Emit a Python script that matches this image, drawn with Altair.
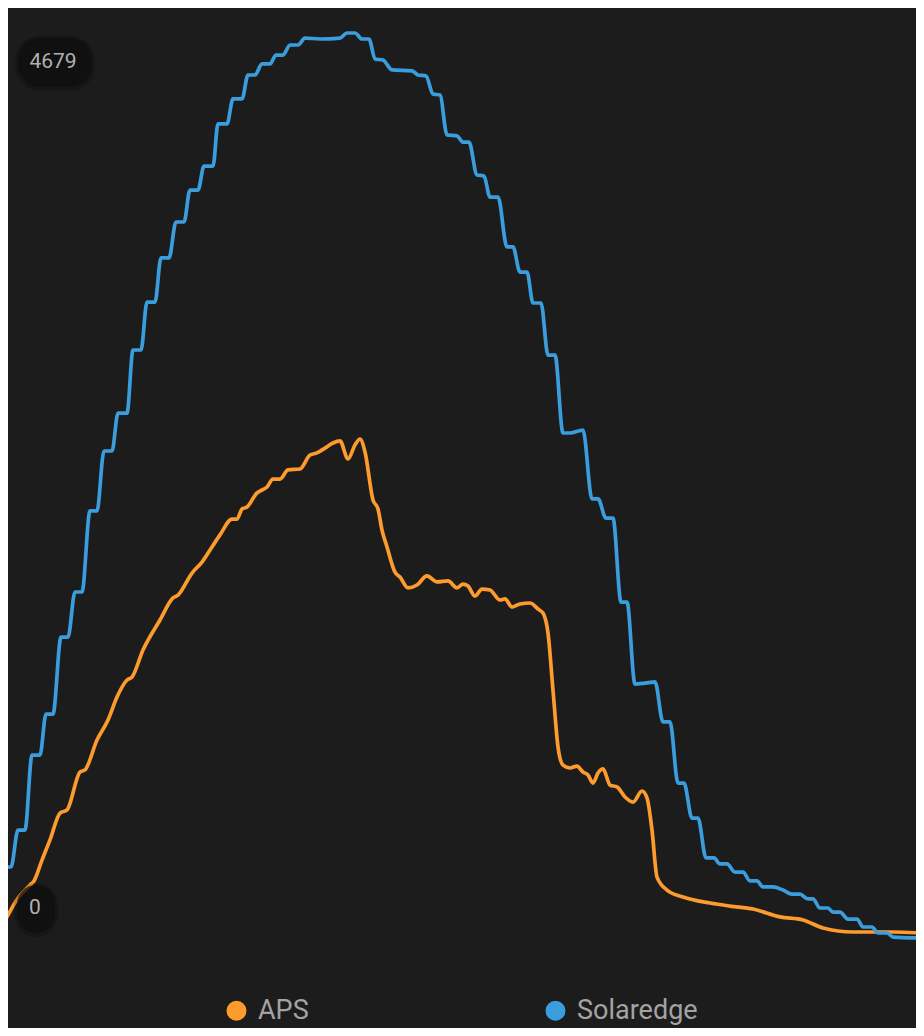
import altair as alt
import pandas as pd

# readings: minutes since midnight, power in W
aps_minutes = [330, 341, 353, 357, 365, 373, 383, 390, 403, 408, 420, 431, 440, 450, 455, 466, 483, 496, 501, 515,
               525, 535, 543, 555, 560, 565, 570, 580, 583, 590, 596, 603, 611, 623, 633, 640, 648, 656, 663, 671,
               678, 683, 688, 696, 701, 705, 710, 718, 723, 731, 740, 750, 760, 771, 780, 786, 791, 798, 805, 813,
               823, 828, 835, 843, 853, 861, 866, 871, 876, 881, 886, 893, 900, 906, 911, 916, 921, 926, 933, 940,
               948, 956, 965, 970, 975, 980, 990, 1006, 1033, 1053, 1076, 1103, 1126, 1146, 1176, 1216, 1243]
aps_watts = [109, 207, 274, 295, 403, 507, 646, 662, 858, 869, 1024, 1127, 1246, 1334, 1349, 1489, 1644, 1758, 1773, 1887,
             1944, 2022, 2084, 2166, 2166, 2218, 2228, 2301, 2311, 2332, 2373, 2373, 2420, 2425, 2497, 2508, 2533, 2559, 2570, 2477,
             2549, 2580, 2513, 2265, 2218, 2109, 2022, 1892, 1866, 1810, 1825, 1872, 1841, 1846, 1810, 1830, 1820, 1768, 1804, 1799,
             1748, 1753, 1711, 1727, 1732, 1701, 1680, 1577, 1282, 988, 894, 879, 889, 858, 843, 801, 853, 874, 791, 781,
             729, 703, 760, 724, 558, 315, 248, 212, 181, 165, 150, 109, 93, 52, 31, 31, 26]

solaredge_minutes = [330, 334, 341, 348, 355, 363, 369, 376, 384, 391, 398, 405, 413, 420, 427, 435, 441, 450, 456, 464,
                     470, 478, 484, 492, 499, 507, 513, 521, 527, 536, 541, 550, 556, 565, 571, 578, 585, 593, 599, 606,
                     613, 621, 628, 643, 663, 670, 678, 685, 692, 698, 706, 715, 735, 741, 749, 756, 763, 770, 780, 786,
                     792, 800, 807, 813, 821, 830, 836, 843, 850, 856, 864, 871, 878, 886, 893, 906, 915, 921, 929, 936,
                     944, 950, 958, 968, 978, 986, 993, 1001, 1007, 1015, 1021, 1029, 1037, 1043, 1050, 1058, 1066, 1073, 1080, 1086,
                     1096, 1106, 1115, 1123, 1131, 1136, 1143, 1151, 1156, 1163, 1171, 1180, 1186, 1195, 1201, 1210, 1216, 1243]
solaredge_watts = [367, 367, 558, 558, 946, 946, 1158, 1158, 1556, 1556, 1789, 1789, 2208, 2208, 2518, 2518, 2714, 2714, 3040, 3040,
                   3288, 3288, 3516, 3516, 3702, 3702, 3867, 3867, 3991, 3991, 4209, 4209, 4338, 4338, 4462, 4462, 4519, 4519, 4565, 4565,
                   4617, 4617, 4653, 4648, 4653, 4679, 4679, 4648, 4648, 4545, 4539, 4488, 4483, 4462, 4457, 4364, 4358, 4152, 4147, 4115,
                   4115, 3945, 3940, 3831, 3831, 3573, 3573, 3443, 3443, 3283, 3283, 3014, 3014, 2611, 2611, 2626, 2270, 2270, 2171, 2171,
                   1737, 1737, 1313, 1318, 1324, 1117, 1117, 801, 801, 620, 620, 414, 414, 383, 383, 341, 341, 295, 295, 264,
                   264, 248, 227, 227, 202, 202, 155, 155, 134, 134, 98, 98, 57, 57, 26, 26, 5, 0]

series_names = ["APS", "Solaredge"]
series_colors = ["#fd9b2c", "#3a9ddd"]

readings = pd.concat([
    pd.DataFrame({"minute": aps_minutes, "watts": aps_watts, "series": "APS"}),
    pd.DataFrame({"minute": solaredge_minutes, "watts": solaredge_watts, "series": "Solaredge"}),
])

all_watts = aps_watts + solaredge_watts
start = min(aps_minutes + solaredge_minutes)
top_badge = pd.DataFrame({"minute": [start], "watts": [max(all_watts)], "label": [str(max(all_watts))]})
bottom_badge = pd.DataFrame({"minute": [start], "watts": [min(all_watts)], "label": [str(min(all_watts))]})

x_scale = alt.Scale(domain=[331, 1239], nice=False, zero=False)
y_scale = alt.Scale(domain=[-465.3, 4808.3], nice=False, zero=False)
X = alt.X("minute:Q", axis=None, scale=x_scale)
Y = alt.Y("watts:Q", axis=None, scale=y_scale)

lines = alt.Chart(readings).mark_line(
    interpolate="monotone", strokeWidth=3.7, strokeCap="round", strokeJoin="round"
).encode(
    x=X,
    y=Y,
    color=alt.Color(
        "series:N",
        scale=alt.Scale(domain=series_names, range=series_colors),
        legend=alt.Legend(
            title=None, orient="none", legendX=215, legendY=989, direction="horizontal",
            padding=0, symbolType="circle", symbolSize=100, symbolStrokeWidth=10,
            labelFont="Roboto", labelFontSize=27, labelColor="#a3a3a3", labelOffset=8,
            columnPadding=221, labelLimit=300,
        ),
    ),
)


def badge(df, left, right, top, bottom, radius, dx, dy):
    base = alt.Chart(df).encode(x=X, y=Y)
    halo = base.mark_rect(
        fill="#000000", opacity=0.18, cornerRadius=radius + 3,
        xOffset=left - 3, x2Offset=right + 3, yOffset=top - 2, y2Offset=bottom + 4,
    ).encode(x2="minute:Q", y2="watts:Q")
    box = base.mark_rect(
        fill="#0e0e0e", opacity=0.72, cornerRadius=radius,
        xOffset=left, x2Offset=right, yOffset=top, y2Offset=bottom,
    ).encode(x2="minute:Q", y2="watts:Q")
    text = base.mark_text(
        font="Roboto", fontSize=21, color="#b0b0b0", align="center", baseline="middle", dx=dx, dy=dy,
    ).encode(text="label:N")
    return [halo, box, text]


chart = alt.layer(
    lines,
    *badge(top_badge, 11, 85, 5, 54, 22, 46, 29),
    *badge(bottom_badge, 10, 48, -53, -5, 19, 28, -30),
).properties(
    width=908, height=1020, padding=0,
    autosize=alt.AutoSizeParams(type="none"),
    background="#1c1c1c",
).configure_view(strokeWidth=0)

chart.save("out.html", embed_options={"renderer": "svg", "actions": False})
